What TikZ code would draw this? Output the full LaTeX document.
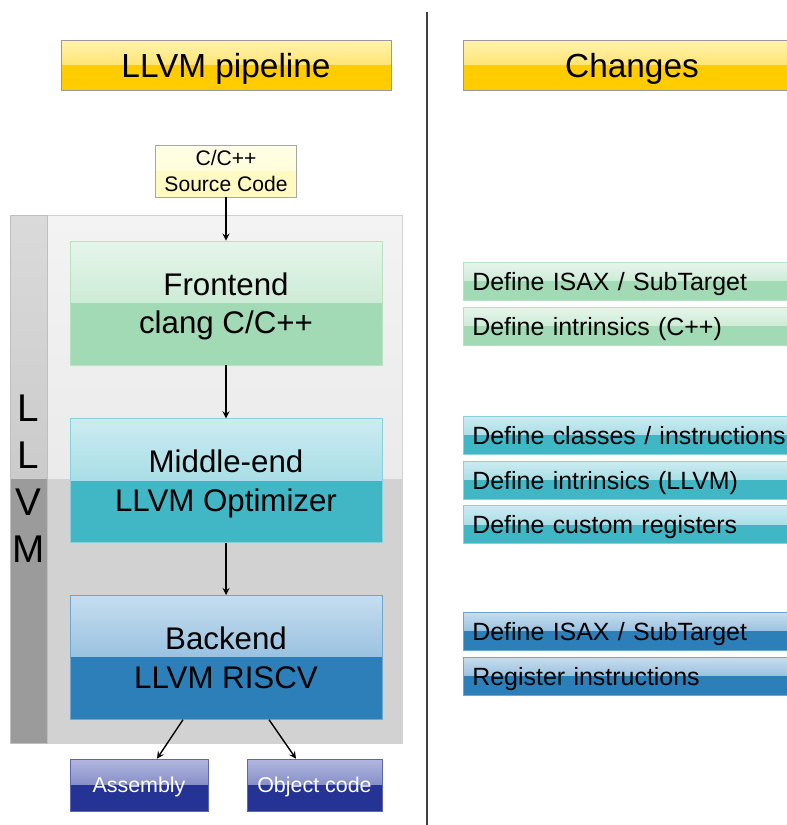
\documentclass[tikz,border=0pt]{standalone}
\usepackage{fontspec}
\setmainfont{Liberation Sans}
\usetikzlibrary{positioning}

\definecolor{ylwA}{HTML}{FFF3B0}
\definecolor{ylwB}{HTML}{FFD637}
\definecolor{ylwC}{HTML}{FFCC00}
\definecolor{srcA}{HTML}{FFFFE6}
\definecolor{srcB}{HTML}{FFFBCF}
\definecolor{srcC}{HTML}{FFF9C2}
\definecolor{grnA}{HTML}{E6F5EB}
\definecolor{grnB}{HTML}{B4E2C2}
\definecolor{grnC}{HTML}{A1DAB4}
\definecolor{tealA}{HTML}{CBECF1}
\definecolor{tealB}{HTML}{88D0DB}
\definecolor{tealC}{HTML}{41B6C4}
\definecolor{bluA}{HTML}{C6DDEF}
\definecolor{bluB}{HTML}{6CA7D2}
\definecolor{bluC}{HTML}{2C7FB8}
\definecolor{navA}{HTML}{B2B7DE}
\definecolor{navB}{HTML}{5C66B2}
\definecolor{navC}{HTML}{253494}
\definecolor{bgA}{HTML}{F3F3F3}
\definecolor{bgB}{HTML}{E2E2E2}
\definecolor{bgC}{HTML}{D2D2D2}
\definecolor{barA}{HTML}{DADADA}
\definecolor{barB}{HTML}{BCBCBC}
\definecolor{barC}{HTML}{9B9B9B}

\tikzset{
	glossy/.style n args={3}{path picture={
		\fill[top color=#1, bottom color=#2] (path picture bounding box.north west) rectangle (path picture bounding box.east);
		\fill[#3] (path picture bounding box.west) rectangle (path picture bounding box.south east);
	}},
	header/.style={draw=gray!80, glossy={ylwA}{ylwB}{ylwC}, minimum width=6.6cm, minimum height=1cm, text depth=0pt, font=\fontsize{19}{22}\selectfont},
	stage/.style={minimum width=6.24cm, minimum height=2.48cm, align=center, text depth=0pt, font=\fontsize{17.8}{22}\selectfont},
	outbox/.style={draw=navB, glossy={navA}{navB}{navC}, minimum height=1.04cm, text=white, text depth=0pt, font=\fontsize{12.2}{14}\selectfont},
	change/.style={minimum width=6.74cm, minimum height=0.76cm, text width=6.38cm, inner xsep=0.18cm, inner ysep=0pt, align=left, text depth=0pt, font=\fontsize{14.2}{16}\selectfont},
	flow/.style={->, >=stealth, thick},
}

\begin{document}
\begin{tikzpicture}[x=0.02cm, y=-0.02cm]
	\useasboundingbox (0,0) rectangle (787,825);
	% left column
	\node [header] (pipe) at (226,65) {LLVM pipeline};
	\node [draw=gray!70, glossy={srcA}{srcB}{srcC}, minimum width=2.82cm, minimum height=1.04cm, align=center, inner sep=0pt, text depth=0pt, font=\fontsize{12}{14.6}\selectfont] (src) at (226,171) {C/C++\\Source Code};
	\node [draw=gray!35, glossy={bgA}{bgB}{bgC}, minimum width=7.1cm, minimum height=10.56cm] (llvm) at (224.5,479) {};
	\node [draw=gray!50, glossy={barA}{barB}{barC}, minimum width=0.74cm, minimum height=10.56cm, inner sep=0pt, align=center, text depth=0pt, font=\fontsize{22}{26.7}\selectfont] (bar) at (28.5,479) {L\\L\\V\\M};
	\node [stage, draw=grnB, glossy={grnA}{grnB}{grnC}] (front) at (226,303) {Frontend\\clang C/C++};
	\node [stage, draw=tealB, glossy={tealA}{tealB}{tealC}, below=1.06cm of front] (mid) {Middle-end\\LLVM Optimizer};
	\node [stage, draw=bluB, glossy={bluA}{bluB}{bluC}, below=1.04cm of mid] (back) {Backend\\LLVM RISCV};
	\node [outbox, minimum width=2.76cm] (asm) at (139,785) {Assembly};
	\node [outbox, minimum width=2.7cm] (obj) at (314.5,785) {Object code};

	\draw [flow] (src) -- (front);
	\draw [flow] (front) -- (mid);
	\draw [flow] (mid) -- (back);
	\draw [flow] (back.south -| 183,0) -- (asm.north -| 157,0);
	\draw [flow] (back.south -| 269,0) -- (obj.north -| 296,0);

	% divider
	\draw [line width=1.2pt, black!75] (427,12) -- (427,825);

	% right column
	\node [header, minimum width=6.76cm] (chg) at (632,65) {Changes};
	\node [change, draw=grnB, glossy={grnA}{grnB}{grnC}, anchor=north west] (fe1) at (463,262) {Define ISAX / SubTarget};
	\node [change, draw=grnB, glossy={grnA}{grnB}{grnC}, below=0.12cm of fe1] (fe2) {Define intrinsics (C++)};
	\node [change, draw=tealB, glossy={tealA}{tealB}{tealC}, anchor=north west] (me1) at (463,416) {Define classes / instructions};
	\node [change, draw=tealB, glossy={tealA}{tealB}{tealC}, below=0.12cm of me1] (me2) {Define intrinsics (LLVM)};
	\node [change, draw=tealB, glossy={tealA}{tealB}{tealC}, below=0.12cm of me2] (me3) {Define custom registers};
	\node [change, draw=bluB, glossy={bluA}{bluB}{bluC}, anchor=north west] (be1) at (463,612) {Define ISAX / SubTarget};
	\node [change, draw=bluB, glossy={bluA}{bluB}{bluC}, below=0.12cm of be1] (be2) {Register instructions};
\end{tikzpicture}
\end{document}
